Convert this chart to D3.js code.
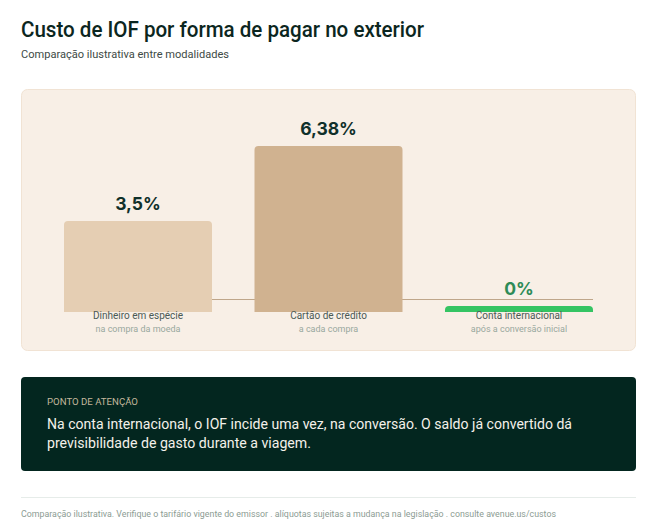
<!DOCTYPE html>
<html>
<head>
    <meta charset="utf-8">
    <title>Custo de IOF por forma de pagar no exterior</title>
    <script src="https://d3js.org/d3.v7.min.js"></script>
    <style>
        html, body { margin: 0; padding: 0; background: #ffffff; }
        svg { display: block; font-family: Roboto, "Noto Sans", sans-serif; }
    </style>
</head>
<body>
    <div id="chart"></div>

    <script>
        // Data
        var categories = ['Dinheiro em espécie', 'Cartão de crédito', 'Conta internacional'];
        var subLabels = ['na compra da moeda', 'a cada compra', 'após a conversão inicial'];
        var iofValues = [3.5, 6.38, 0];
        var valueLabels = ['3,5%', '6,38%', '0%'];
        var barColors = ['#e5ceb3', '#d0b290', '#35c463'];
        var labelColors = ['#10302a', '#10302a', '#2e8b57'];

        var title = 'Custo de IOF por forma de pagar no exterior';
        var subtitle = 'Comparação ilustrativa entre modalidades';
        var noteTitle = 'PONTO DE ATENÇÃO';
        var noteLines = [
            'Na conta internacional, o IOF incide uma vez, na conversão. O saldo já convertido dá',
            'previsibilidade de gasto durante a viagem.'
        ];
        var footer = 'Comparação ilustrativa. Verifique o tarifário vigente do emissor . alíquotas sujeitas a mudança na legislação . consulte avenue.us/custos';

        var W = 652, H = 532;

        var svg = d3.select('#chart')
            .append('svg')
            .attr('width', W)
            .attr('height', H);

        // set a text to the width it has in the original
        function fit(sel, w) {
            sel.attr('textLength', w).attr('lengthAdjust', 'spacingAndGlyphs');
            return sel;
        }

        // Title block
        fit(svg.append('text')
            .attr('x', 21).attr('y', 37)
            .attr('font-size', 22)
            .attr('font-weight', 500)
            .attr('fill', '#0b2620')
            .text(title), 403);

        fit(svg.append('text')
            .attr('x', 21).attr('y', 58)
            .attr('font-size', 11)
            .attr('fill', '#3d4a45')
            .text(subtitle), 208);

        // Chart panel
        svg.append('rect')
            .attr('x', 21.5).attr('y', 89.5)
            .attr('width', 614).attr('height', 261)
            .attr('rx', 6)
            .attr('fill', '#f8efe6')
            .attr('stroke', '#f1e3d4');

        var x = d3.scaleBand()
            .domain(categories)
            .range([64, 593])
            .paddingInner(0.223)
            .paddingOuter(0);

        var y = d3.scaleLinear()
            .domain([0, d3.max(iofValues)])
            .range([312, 146]);

        var minBar = 6;

        // baseline
        svg.append('line')
            .attr('x1', x.range()[0]).attr('x2', x.range()[1])
            .attr('y1', 299.5).attr('y2', 299.5)
            .attr('stroke', '#bfa68a')
            .attr('stroke-width', 1.2);

        function barTop(v) {
            return Math.min(y(v), y(0) - minBar);
        }

        // bars with rounded top corners
        function barPath(d, i) {
            var x0 = x(categories[i]), x1 = x0 + x.bandwidth();
            var t = barTop(d), b = y(0), r = 4;
            return 'M' + x0 + ',' + b +
                'V' + (t + r) +
                'Q' + x0 + ',' + t + ' ' + (x0 + r) + ',' + t +
                'H' + (x1 - r) +
                'Q' + x1 + ',' + t + ' ' + x1 + ',' + (t + r) +
                'V' + b + 'Z';
        }

        svg.selectAll('path.bar')
            .data(iofValues)
            .enter()
            .append('path')
            .attr('class', 'bar')
            .attr('d', barPath)
            .attr('fill', function(d, i) { return barColors[i]; });

        // value labels
        svg.selectAll('text.value')
            .data(iofValues)
            .enter()
            .append('text')
            .attr('class', 'value')
            .attr('x', function(d, i) { return x(categories[i]) + x.bandwidth() / 2; })
            .attr('y', function(d) { return barTop(d) - 11; })
            .attr('text-anchor', 'middle')
            .attr('font-family', 'Inter, Roboto, sans-serif')
            .attr('font-size', 17.5)
            .attr('font-weight', 700)
            .attr('fill', function(d, i) { return labelColors[i]; })
            .text(function(d, i) { return valueLabels[i]; });

        // category labels
        svg.selectAll('text.cat')
            .data(categories)
            .enter()
            .append('text')
            .attr('class', 'cat')
            .attr('x', function(d) { return x(d) + x.bandwidth() / 2; })
            .attr('y', 318.5)
            .attr('text-anchor', 'middle')
            .attr('font-size', 10)
            .attr('fill', '#4b5a55')
            .text(function(d) { return d; });

        svg.selectAll('text.sub')
            .data(subLabels)
            .enter()
            .append('text')
            .attr('class', 'sub')
            .attr('x', function(d, i) { return x(categories[i]) + x.bandwidth() / 2; })
            .attr('y', 331.5)
            .attr('text-anchor', 'middle')
            .attr('font-size', 9)
            .attr('fill', '#98a89e')
            .text(function(d) { return d; });

        // note box
        svg.append('rect')
            .attr('x', 21).attr('y', 377)
            .attr('width', 615).attr('height', 94)
            .attr('rx', 4)
            .attr('fill', '#03261f');

        fit(svg.append('text')
            .attr('x', 47).attr('y', 404.5)
            .attr('font-size', 8.5)
            .attr('fill', '#c3b79d')
            .text(noteTitle), 91);

        var noteWidths = [525, 264];
        svg.selectAll('text.note')
            .data(noteLines)
            .enter()
            .append('text')
            .attr('class', 'note')
            .attr('x', 47)
            .attr('y', function(d, i) { return 429 + i * 19; })
            .attr('font-size', 15.5)
            .attr('fill', '#f4f1ea')
            .text(function(d) { return d; })
            .each(function(d, i) { fit(d3.select(this), noteWidths[i]); });

        // footer
        svg.append('line')
            .attr('x1', 21).attr('x2', 636)
            .attr('y1', 497.5).attr('y2', 497.5)
            .attr('stroke', '#e6ece9');

        fit(svg.append('text')
            .attr('x', 21).attr('y', 517)
            .attr('font-size', 9)
            .attr('fill', '#8c9c93')
            .text(footer), 535);
    </script>
</body>
</html>
